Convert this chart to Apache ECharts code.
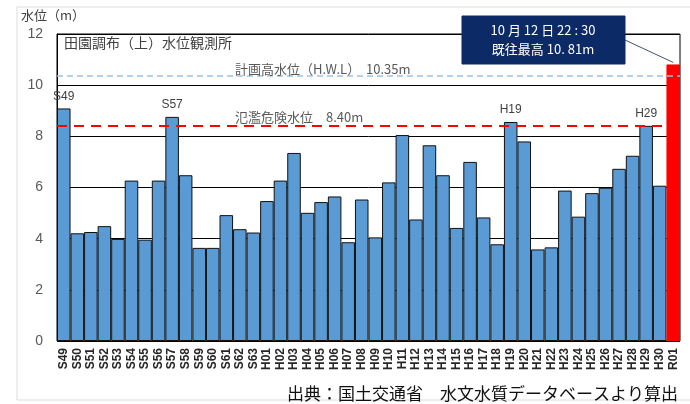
<!DOCTYPE html>
<html>
<head>
<meta charset="utf-8">
<script src="https://cdn.jsdelivr.net/npm/echarts@6/dist/echarts.min.js"></script>
<style>html,body{margin:0;padding:0;background:#fff}#c{width:690px;height:404px}</style>
</head>
<body>
<div id="c"></div>
<script>
const categories = ['S49','S50','S51','S52','S53','S54','S55','S56','S57','S58','S59','S60','S61','S62','S63',
  'H01','H02','H03','H04','H05','H06','H07','H08','H09','H10','H11','H12','H13','H14','H15','H16','H17','H18','H19','H20',
  'H21','H22','H23','H24','H25','H26','H27','H28','H29','H30','R01'];
const waterLevel = [9.09,4.21,4.26,4.49,3.99,6.27,3.96,6.27,8.76,6.48,3.64,3.64,4.92,4.37,4.24,
  5.47,6.27,7.35,5.01,5.43,5.65,3.86,5.53,4.05,6.2,8.05,4.75,7.65,6.48,4.42,7.0,4.83,3.78,8.56,7.8,
  3.58,3.66,5.88,4.86,5.78,5.99,6.73,7.24,8.41,6.07,10.81];
const labelledYears = ['S49','S57','H19','H29'];
const recordYear = 'R01';
const hwl = 10.35;
const dangerLevel = 8.40;
const yTicks = [0,2,4,6,8,10,12];

const chart = echarts.init(document.getElementById('c'));
const font = '"Noto Sans CJK JP","Liberation Sans",sans-serif';

const data = categories.map((c, i) => {
  const item = { value: waterLevel[i] };
  if (c === recordYear) {
    item.itemStyle = { color: '#ff0000', borderColor: '#ff0000' };
  }
  if (labelledYears.includes(c)) {
    item.label = { show: true, position: 'top', distance: 6, formatter: c,
      fontSize: 12, color: '#404040', fontFamily: 'Liberation Sans' };
  }
  return item;
});

const baseGraphic = [
  { type: 'rect', shape: { x: 17, y: 7, width: 700, height: 393 }, style: { fill: 'none', stroke: '#dcdcdc', lineWidth: 1 }, silent: true },
  { type: 'text', left: 21, top: 9, style: { text: '水位（m）', font: '13px ' + font, fill: '#404040' } },
  { type: 'text', left: 64, top: 36, style: { text: '田園調布（上）水位観測所', font: '14px ' + font, fill: '#404040' } },
  { type: 'text', left: 287, top: 385, style: { text: '出典：国土交通省　水文水質データベースより算出', font: '17px ' + font, fill: '#111' } }
];

chart.setOption({
  animation: false,
  backgroundColor: '#fff',
  textStyle: { fontFamily: font },
  grid: { left: 57, right: 10, top: 34, bottom: 63, show: true, borderColor: '#000', borderWidth: 1, backgroundColor: 'transparent' },
  xAxis: {
    type: 'category', data: categories,
    axisLine: { show: false }, axisTick: { show: false },
    axisLabel: { interval: 0, rotate: 90, fontSize: 12, fontWeight: 'bold', color: '#262626', margin: 7, fontFamily: 'Liberation Sans' }
  },
  yAxis: {
    type: 'value', min: yTicks[0], max: yTicks[yTicks.length - 1], interval: 2,
    axisLine: { show: true, lineStyle: { color: '#000' } }, axisTick: { show: false },
    axisLabel: { fontSize: 14, color: '#595959', margin: 14, fontFamily: 'Liberation Sans' },
    splitLine: { show: true, lineStyle: { color: '#000', width: 1 } }
  },
  series: [{
    type: 'bar', data: data, barCategoryGap: '0%',
    itemStyle: { color: '#5b9bd5', borderColor: '#111', borderWidth: 1 },
    markLine: {
      silent: true, symbol: 'none',
      data: [
        { yAxis: hwl, lineStyle: { color: '#9dc3e6', type: [6, 4], width: 1.5 },
          label: { show: true, position: 'insideStartTop', distance: [178, 1], formatter: '計画高水位（H.W.L）  ' + hwl.toFixed(2) + 'm',
            fontSize: 13, color: '#595959', fontFamily: font } },
        { yAxis: dangerLevel, lineStyle: { color: '#ff0000', type: [10, 7], width: 2 },
          label: { show: true, position: 'insideStartTop', distance: [178, 3], formatter: '氾濫危険水位　' + dangerLevel.toFixed(2) + 'm',
            fontSize: 13, color: '#595959', fontFamily: font } }
      ]
    }
  }],
  graphic: baseGraphic
});

// annotation box linked to record bar
const p = chart.convertToPixel({ seriesIndex: 0 }, [recordYear, waterLevel[categories.indexOf(recordYear)]]);
chart.setOption({
  graphic: baseGraphic.concat([
    { type: 'line', shape: { x1: 625, y1: 40, x2: p[0], y2: p[1] - 2 }, style: { stroke: '#44546a', lineWidth: 1 }, z: 10 },
    { type: 'rect', shape: { x: 462, y: 16, width: 163, height: 48 }, style: { fill: '#0c2a65', stroke: '#0c2a65' }, z: 11 },
    { type: 'text', x: 543, y: 30, style: { text: '10 月 12 日 22 : 30', font: '13px ' + font, fill: '#fff', align: 'center', verticalAlign: 'middle' }, z: 12 },
    { type: 'text', x: 543, y: 49, style: { text: '既往最高 10. 81m', font: '13px ' + font, fill: '#fff', align: 'center', verticalAlign: 'middle' }, z: 12 }
  ])
}, { replaceMerge: ['graphic'] });
</script>
</body>
</html>
